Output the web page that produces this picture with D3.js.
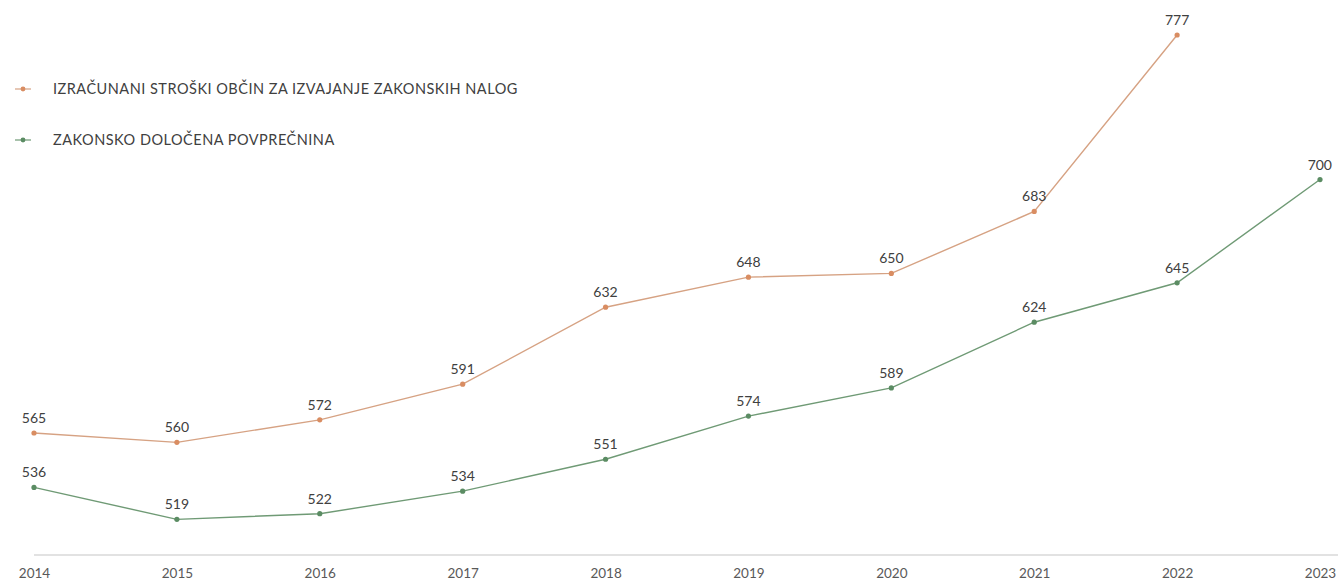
<!DOCTYPE html>
<html>
<head>
<meta charset="utf-8">
<script src="https://cdn.jsdelivr.net/npm/d3@7"></script>
<style>
  body { margin: 0; background: #fff; }
  svg { display: block; font-family: Lato, "Noto Sans", sans-serif; }
</style>
</head>
<body>
<div id="chart"></div>
<script>
const years = ["2014", "2015", "2016", "2017", "2018", "2019", "2020", "2021", "2022", "2023"];
const stroski = [565, 560, 572, 591, 632, 648, 650, 683, 777, null];
const povprecnina = [536, 519, 522, 534, 551, 574, 589, 624, 645, 700];
const seriesNames = ["IZRAČUNANI STROŠKI OBČIN ZA IZVAJANJE ZAKONSKIH NALOG", "ZAKONSKO DOLOČENA POVPREČNINA"];
const seriesColors = ["#d98d62", "#5b8c63"];
const lineColors = ["#d6a283", "#6f9a75"];

const width = 1338, height = 581;

const svg = d3.select("#chart").append("svg")
  .attr("width", width)
  .attr("height", height);

const x = d3.scalePoint().domain(years).range([34, 1320]);
const y = d3.scaleLinear().domain([500, 777]).range([555, 35]);

// x axis
const xAxis = svg.append("g")
  .attr("transform", `translate(0,${y(500)})`)
  .call(d3.axisBottom(x).tickSize(0).tickPadding(13));
xAxis.select(".domain").remove();
xAxis.append("line")
  .attr("x1", 34).attr("x2", 1338)
  .attr("stroke", "#d9d9d9").attr("stroke-width", 1.3);
xAxis.selectAll("text")
  .attr("fill", "#595959")
  .attr("font-size", "13.5px")
  .attr("font-family", "Lato, 'Noto Sans', sans-serif");

[stroski, povprecnina].forEach((vals, i) => {
  const pts = years.map((yr, j) => ({ yr, v: vals[j] })).filter(d => d.v != null);
  const line = d3.line().x(d => x(d.yr)).y(d => y(d.v));

  svg.append("path")
    .datum(pts)
    .attr("d", line)
    .attr("fill", "none")
    .attr("stroke", lineColors[i])
    .attr("stroke-width", 1.4);

  svg.selectAll(null)
    .data(pts)
    .join("circle")
    .attr("cx", d => x(d.yr))
    .attr("cy", d => y(d.v))
    .attr("r", 2.6)
    .attr("fill", seriesColors[i]);

  svg.selectAll(null)
    .data(pts)
    .join("text")
    .attr("x", d => x(d.yr))
    .attr("y", d => y(d.v) - 10)
    .attr("text-anchor", d => d.yr === "2023" ? "end" : "middle")
    .attr("dx", d => d.yr === "2023" ? 12 : 0)
    .attr("font-size", "14px")
    .attr("fill", "#404040")
    .text(d => d.v);
});

// legend
const legend = svg.append("g");
seriesNames.forEach((name, i) => {
  const ly = 89 + i * 51;
  legend.append("line")
    .attr("x1", 15).attr("x2", 31)
    .attr("y1", ly).attr("y2", ly)
    .attr("stroke", lineColors[i]).attr("stroke-width", 1.2);
  legend.append("circle")
    .attr("cx", 23).attr("cy", ly).attr("r", 2.4)
    .attr("fill", seriesColors[i]);
  legend.append("text")
    .attr("x", 53).attr("y", ly + 5)
    .attr("font-size", "14.5px")
    .attr("fill", "#404040")
    .attr("letter-spacing", "0.5px")
    .text(name);
});
</script>
</body>
</html>
